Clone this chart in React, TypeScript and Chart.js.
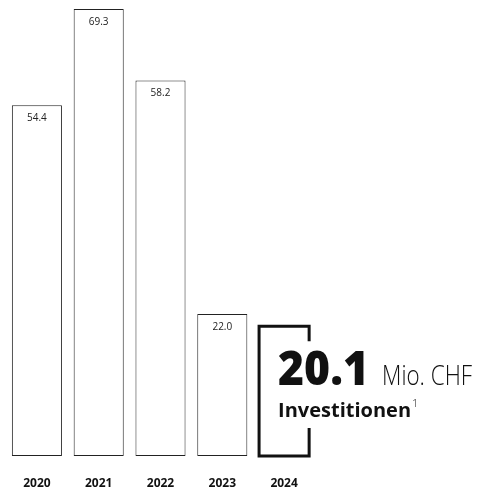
import React, { useEffect, useRef } from "react";
import { Chart, registerables } from "chart.js";

Chart.register(...registerables);

const categories = ["2020", "2021", "2022", "2023", "2024"];
const values = [54.4, 69.3, 58.2, 22.0, 20.1];
const valueLabels = ["54.4", "69.3", "58.2", "22.0", "20.1"];
const highlightIndex = 4;
const highlightUnit = "Mio. CHF";
const highlightTitle = "Investitionen";
const highlightNote = "1";

const FONT = "'Open Sans', 'Noto Sans', sans-serif";

function fitText(ctx: any, text: string, x: number, y: number, maxW: number) {
  const w = ctx.measureText(text).width;
  const s = w > maxW ? maxW / w : 1;
  ctx.save();
  ctx.translate(x, y);
  ctx.scale(s, 1);
  ctx.fillText(text, 0, 0);
  ctx.restore();
  return w * s;
}

const overlayPlugin = {
  id: "overlay",
  afterDatasetsDraw(chart: any) {
    const ctx = chart.ctx;
    const meta = chart.getDatasetMeta(0);
    ctx.save();
    meta.data.forEach((bar: any, i: number) => {
      const half = bar.width / 2;
      const left = bar.x - half;
      const right = bar.x + half;
      if (i !== highlightIndex) {
        ctx.fillStyle = "#222";
        ctx.font = `400 10px ${FONT}`;
        ctx.textAlign = "center";
        ctx.textBaseline = "middle";
        ctx.fillText(valueLabels[i], bar.x, bar.y + 13);
      } else {
        const top = bar.y;
        const bottom = bar.base;
        ctx.strokeStyle = "#111";
        ctx.lineWidth = 3;
        ctx.lineCap = "butt";
        ctx.beginPath();
        ctx.moveTo(right, top + 15);
        ctx.lineTo(right, top);
        ctx.lineTo(left, top);
        ctx.lineTo(left, bottom);
        ctx.lineTo(right, bottom);
        ctx.lineTo(right, bottom - 28);
        ctx.stroke();
        const tx = left + 19;
        ctx.fillStyle = "#111";
        ctx.textAlign = "left";
        ctx.textBaseline = "alphabetic";
        ctx.font = `800 48px ${FONT}`;
        const w = fitText(ctx, valueLabels[i], tx, top + 59, 91);
        ctx.font = `300 27px ${FONT}`;
        fitText(ctx, highlightUnit, tx + w + 13, top + 59, 90);
        ctx.font = `700 20px ${FONT}`;
        const w2 = fitText(ctx, highlightTitle, tx, top + 91, 135);
        ctx.font = `300 11px ${FONT}`;
        ctx.fillText(highlightNote, tx + w2 + 1, top + 81);
      }
    });
    ctx.restore();
  },
};

export default function App() {
  const ref = useRef<HTMLCanvasElement>(null);
  useEffect(() => {
    if (!ref.current) return;
    const chart = new Chart(ref.current, {
      type: "bar",
      data: {
        labels: categories,
        datasets: [
          {
            data: values,
            backgroundColor: values.map((_, i) => (i === highlightIndex ? "rgba(0,0,0,0)" : "#ffffff")),
            borderColor: values.map((_, i) => (i === highlightIndex ? "rgba(0,0,0,0)" : "#222222")),
            borderWidth: 1,
            borderSkipped: false,
            categoryPercentage: 1,
            barPercentage: 0.81,
          },
        ],
      },
      options: {
        animation: false,
        responsive: false,
        maintainAspectRatio: false,
        layout: { padding: { left: 6, right: 164, top: 0, bottom: 0 } },
        plugins: { legend: { display: false }, tooltip: { enabled: false } },
        scales: {
          y: { display: false, min: 0, max: 70.7 },
          x: {
            grid: { display: false, drawTicks: false },
            border: { display: false },
            ticks: {
              color: "#111",
              padding: 20,
              font: { family: FONT, size: 12, weight: "bold" },
            },
            afterFit: (scale: any) => {
              scale.height = 36;
            },
          },
        },
      },
      plugins: [overlayPlugin],
    });
    return () => chart.destroy();
  }, []);
  return (
    <div style={{ position: "fixed", left: 0, top: 0, width: 479, height: 492, background: "#fff" }}>
      <canvas ref={ref} width={479} height={492} style={{ width: 479, height: 492, display: "block" }} />
    </div>
  );
}
